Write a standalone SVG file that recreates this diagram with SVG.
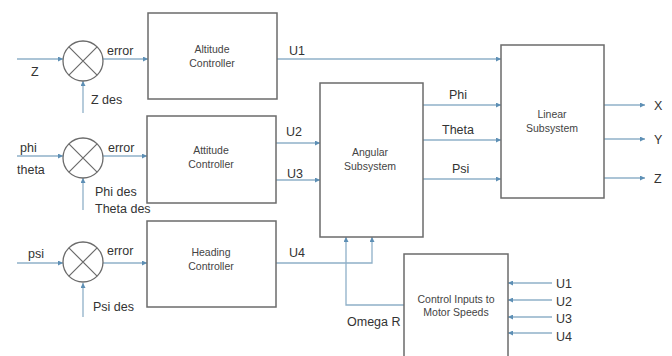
<svg xmlns="http://www.w3.org/2000/svg" width="672" height="356" viewBox="0 0 672 356">
<style>
.box{fill:#fff;stroke:#6b6b6b;stroke-width:1.5}
.sum{fill:#fff;stroke:#6b6b6b;stroke-width:1.3}
.x{stroke:#6b6b6b;stroke-width:1.2}
.ln{fill:none;stroke:#8fb0c8;stroke-width:1.3}
.lbl{font-family:"Liberation Sans",Arial,sans-serif;font-size:12.5px;fill:#333}
.bt{font-family:"Liberation Sans",Arial,sans-serif;font-size:10.5px;fill:#444;text-anchor:middle}
</style>
<defs>
<marker id="ah" viewBox="0 0 10 10" refX="10" refY="5" markerWidth="5" markerHeight="5" orient="auto" markerUnits="userSpaceOnUse">
<path d="M0,0 L10,5 L0,10 z" fill="#5d8fb5"/>
</marker>
</defs>
<rect width="672" height="356" fill="#fff"/>
<g id="connectors">
<path class="ln" d="M17,59 H63" marker-end="url(#ah)"/>
<path class="ln" d="M103,59 H148" marker-end="url(#ah)"/>
<path class="ln" d="M83,113 V81" marker-end="url(#ah)"/>
<path class="ln" d="M17,156 H63" marker-end="url(#ah)"/>
<path class="ln" d="M103,156 H147" marker-end="url(#ah)"/>
<path class="ln" d="M83,210 V178" marker-end="url(#ah)"/>
<path class="ln" d="M17,263 H63" marker-end="url(#ah)"/>
<path class="ln" d="M103,263 H147" marker-end="url(#ah)"/>
<path class="ln" d="M83,317 V283" marker-end="url(#ah)"/>
<path class="ln" d="M277,59 H501" marker-end="url(#ah)"/>
<path class="ln" d="M276,143 H320" marker-end="url(#ah)"/>
<path class="ln" d="M276,180 H320" marker-end="url(#ah)"/>
<path class="ln" d="M276,263 H372 V237" marker-end="url(#ah)"/>
<path class="ln" d="M404,305 H346 V237" marker-end="url(#ah)"/>
<path class="ln" d="M423,105 H501" marker-end="url(#ah)"/>
<path class="ln" d="M423,140 H501" marker-end="url(#ah)"/>
<path class="ln" d="M423,179 H501" marker-end="url(#ah)"/>
<path class="ln" d="M604,105 H645" marker-end="url(#ah)"/>
<path class="ln" d="M604,139 H645" marker-end="url(#ah)"/>
<path class="ln" d="M604,178 H645" marker-end="url(#ah)"/>
<path class="ln" d="M552,283 H508" marker-end="url(#ah)"/>
<path class="ln" d="M552,300 H508" marker-end="url(#ah)"/>
<path class="ln" d="M552,317 H508" marker-end="url(#ah)"/>
<path class="ln" d="M552,333 H508" marker-end="url(#ah)"/>
</g>
<g id="labels">
<text class="lbl" x="31" y="76">Z</text>
<text class="lbl" x="107" y="55">error</text>
<text class="lbl" x="91" y="104">Z des</text>
<text class="lbl" x="20" y="152">phi</text>
<text class="lbl" x="17" y="174">theta</text>
<text class="lbl" x="108" y="152">error</text>
<text class="lbl" x="95" y="196">Phi des</text>
<text class="lbl" x="95" y="213">Theta des</text>
<text class="lbl" x="28" y="258">psi</text>
<text class="lbl" x="107" y="255">error</text>
<text class="lbl" x="93" y="311">Psi des</text>
<text class="lbl" x="289" y="55">U1</text>
<text class="lbl" x="286" y="136">U2</text>
<text class="lbl" x="287" y="178">U3</text>
<text class="lbl" x="289" y="257">U4</text>
<text class="lbl" x="449" y="99">Phi</text>
<text class="lbl" x="442" y="134">Theta</text>
<text class="lbl" x="452" y="173">Psi</text>
<text class="lbl" x="654" y="110">X</text>
<text class="lbl" x="654" y="144">Y</text>
<text class="lbl" x="654" y="183">Z</text>
<text class="lbl" x="347" y="326">Omega R</text>
<text class="lbl" x="556" y="288">U1</text>
<text class="lbl" x="556" y="306">U2</text>
<text class="lbl" x="556" y="323">U3</text>
<text class="lbl" x="556" y="341">U4</text>
</g>
<g id="sum1"><circle class="sum" cx="83" cy="61" r="20"/><path class="x" d="M68.9,46.9 L97.1,75.1 M97.1,46.9 L68.9,75.1"/></g>
<g id="sum2"><circle class="sum" cx="83" cy="158" r="20"/><path class="x" d="M68.9,143.9 L97.1,172.1 M97.1,143.9 L68.9,172.1"/></g>
<g id="sum3"><circle class="sum" cx="83" cy="262" r="20"/><path class="x" d="M68.9,247.9 L97.1,276.1 M97.1,247.9 L68.9,276.1"/></g>
<g id="altitude"><rect class="box" x="148" y="13" width="129" height="86"/><text class="bt" x="212" y="53">Altitude</text><text class="bt" x="212" y="67">Controller</text></g>
<g id="attitude"><rect class="box" x="147" y="116" width="129" height="87"/><text class="bt" x="211" y="154">Attitude</text><text class="bt" x="211" y="168">Controller</text></g>
<g id="heading"><rect class="box" x="147" y="221" width="129" height="86"/><text class="bt" x="211" y="256">Heading</text><text class="bt" x="211" y="270">Controller</text></g>
<g id="angular"><rect class="box" x="320" y="83" width="103" height="154"/><text class="bt" x="370" y="156">Angular</text><text class="bt" x="370" y="170">Subsystem</text></g>
<g id="linear"><rect class="box" x="501" y="45" width="103" height="153"/><text class="bt" x="552" y="118">Linear</text><text class="bt" x="552" y="132">Subsystem</text></g>
<g id="motor"><rect class="box" x="404" y="254" width="104" height="110"/><text class="bt" x="456" y="303">Control Inputs to</text><text class="bt" x="456" y="316">Motor Speeds</text></g>
</svg>
